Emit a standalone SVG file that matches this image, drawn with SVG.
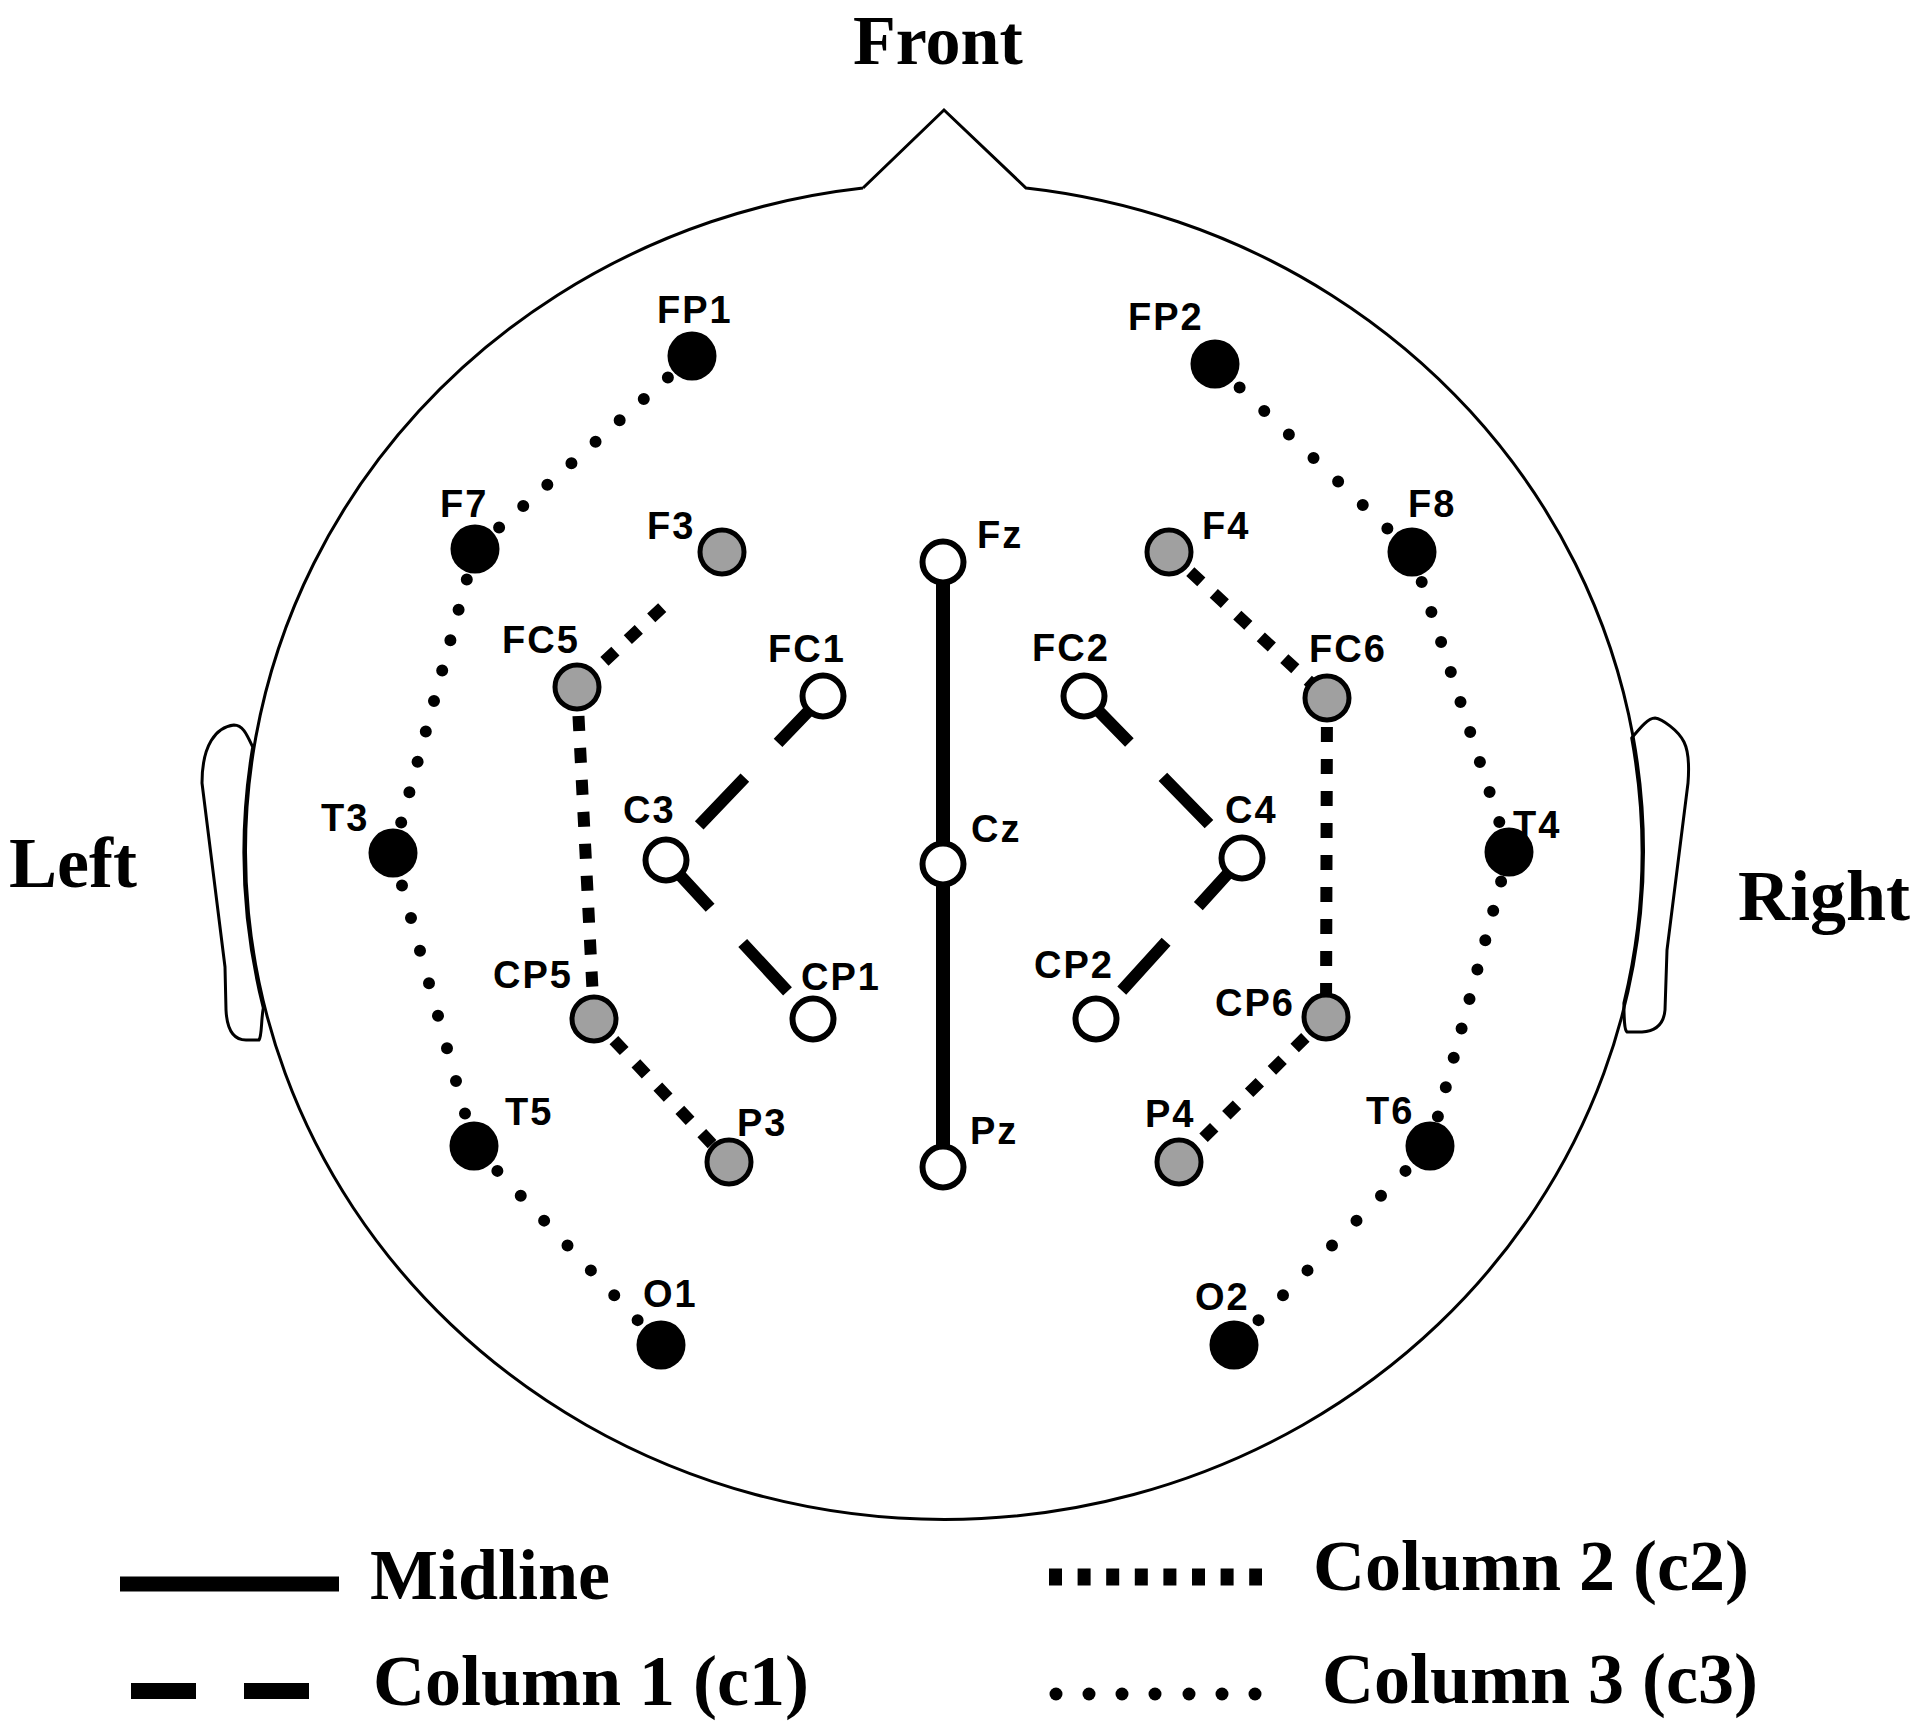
<svg xmlns="http://www.w3.org/2000/svg" width="1920" height="1729" viewBox="0 0 1920 1729">
<style>
.outline{fill:none;stroke:#000;stroke-width:3;stroke-linejoin:miter}
.ear{fill:#fff;stroke:#000;stroke-width:3;stroke-linejoin:round}
.mid{stroke:#000;stroke-width:14;fill:none}
.c1{stroke:#000;stroke-width:12;fill:none;stroke-dasharray:65 48 66 400}
.c2{stroke:#000;stroke-width:12;fill:none;stroke-dasharray:15 17;stroke-dashoffset:3}
.c3{stroke:#000;stroke-width:12;fill:none;stroke-linecap:round;stroke-dasharray:0 1}
.blk{fill:#000}
.gry{fill:#a0a0a0;stroke:#000;stroke-width:5}
.wht{fill:#fff;stroke:#000;stroke-width:6}
.lab{font-family:"Liberation Sans",Arial,sans-serif;font-weight:bold;font-size:38px;letter-spacing:2px;fill:#000}
.big{font-family:"Liberation Serif","Times New Roman",serif;font-weight:bold;font-size:72px;fill:#000}
.dot{fill:#000}
</style>
<rect width="1920" height="1729" fill="#fff"/>
<g id="head">
<path class="ear" d="M252.7 747 C247 735 243 725 234 725 C216 727 202 745 202 783 L225 967 L226 1010 C227 1030 233 1040 246 1040 L259 1040 C262 1036 261 1020 263.3 1008 A699 668 0 0 1 252.7 747 Z"/>
<path class="ear" d="M1631.7 738 C1640 728 1648 718 1655 718 C1662 719 1678 730 1684 742 C1689 752 1689 770 1688 783 L1667 950 L1665 1010 C1664 1022 1658 1031 1642 1032 L1627 1032 C1624 1030 1624 1015 1623.9 1003 A699 668 0 0 0 1631.7 738 Z"/>
<path class="outline" d="M863 188 L944 110 L1026 188 A699 668 0 1 1 863 188"/>
</g>
<g id="connectors">
<path class="mid" d="M943 562 L943 1167"/>
<path class="c1" d="M823 696 L666 860"/>
<path class="c1" d="M666 860 L813 1019"/>
<path class="c1" d="M1084 696 L1242 858"/>
<path class="c1" d="M1242 858 L1096 1019"/>
<path class="c2" style="stroke-dashoffset:26.5" d="M577 687 L662.6 607.2"/>
<path class="c2" d="M577 687 L594 1019"/>
<path class="c2" d="M594 1019 L729 1162"/>
<path class="c2" d="M1169 552 L1327 698"/>
<path class="c2" d="M1327 698 L1326 1017"/>
<path class="c2" d="M1326 1017 L1179 1162"/>
<path class="c3" pathLength="9" d="M692 356 L475 549"/>
<path class="c3" pathLength="10" d="M475 549 L393 853"/>
<path class="c3" pathLength="9" d="M393 853 L474 1146"/>
<path class="c3" pathLength="8" d="M474 1146 L661 1345"/>
<path class="c3" pathLength="8" d="M1215 364 L1412 552"/>
<path class="c3" pathLength="10" d="M1412 552 L1509 852"/>
<path class="c3" pathLength="10" d="M1509 852 L1430 1146"/>
<path class="c3" pathLength="8" d="M1430 1146 L1234 1345"/>
</g>
<g id="FP1"><circle class="blk" cx="692" cy="356" r="24.5"/><text class="lab" x="657" y="323">FP1</text></g>
<g id="FP2"><circle class="blk" cx="1215" cy="364" r="24.5"/><text class="lab" x="1128" y="330">FP2</text></g>
<g id="F7"><circle class="blk" cx="475" cy="549" r="24.5"/><text class="lab" x="440" y="517">F7</text></g>
<g id="F3"><circle class="gry" cx="722" cy="552" r="22"/><text class="lab" x="647" y="539">F3</text></g>
<g id="Fz"><circle class="wht" cx="943" cy="562" r="20.5"/><text class="lab" x="977" y="548">Fz</text></g>
<g id="F4"><circle class="gry" cx="1169" cy="552" r="22"/><text class="lab" x="1202" y="539">F4</text></g>
<g id="F8"><circle class="blk" cx="1412" cy="552" r="24.5"/><text class="lab" x="1408" y="517">F8</text></g>
<g id="FC5"><circle class="gry" cx="577" cy="687" r="22"/><text class="lab" x="502" y="653">FC5</text></g>
<g id="FC1"><circle class="wht" cx="823" cy="696" r="20.5"/><text class="lab" x="768" y="662">FC1</text></g>
<g id="FC2"><circle class="wht" cx="1084" cy="696" r="20.5"/><text class="lab" x="1032" y="661">FC2</text></g>
<g id="FC6"><circle class="gry" cx="1327" cy="698" r="22"/><text class="lab" x="1309" y="662">FC6</text></g>
<g id="T3"><circle class="blk" cx="393" cy="853" r="24.5"/><text class="lab" x="321" y="831">T3</text></g>
<g id="C3"><circle class="wht" cx="666" cy="860" r="20.5"/><text class="lab" x="623" y="823">C3</text></g>
<g id="Cz"><circle class="wht" cx="943" cy="864" r="20.5"/><text class="lab" x="971" y="842">Cz</text></g>
<g id="C4"><circle class="wht" cx="1242" cy="858" r="20.5"/><text class="lab" x="1225" y="823">C4</text></g>
<g id="T4"><circle class="blk" cx="1509" cy="852" r="24.5"/><text class="lab" x="1513" y="838">T4</text></g>
<g id="CP5"><circle class="gry" cx="594" cy="1019" r="22"/><text class="lab" x="493" y="988">CP5</text></g>
<g id="CP1"><circle class="wht" cx="813" cy="1019" r="20.5"/><text class="lab" x="801" y="990">CP1</text></g>
<g id="CP2"><circle class="wht" cx="1096" cy="1019" r="20.5"/><text class="lab" x="1034" y="978">CP2</text></g>
<g id="CP6"><circle class="gry" cx="1326" cy="1017" r="22"/><text class="lab" x="1215" y="1016">CP6</text></g>
<g id="T5"><circle class="blk" cx="474" cy="1146" r="24.5"/><text class="lab" x="505" y="1125">T5</text></g>
<g id="P3"><circle class="gry" cx="729" cy="1162" r="22"/><text class="lab" x="737" y="1136">P3</text></g>
<g id="Pz"><circle class="wht" cx="943" cy="1167" r="20.5"/><text class="lab" x="970" y="1144">Pz</text></g>
<g id="P4"><circle class="gry" cx="1179" cy="1162" r="22"/><text class="lab" x="1145" y="1127">P4</text></g>
<g id="T6"><circle class="blk" cx="1430" cy="1146" r="24.5"/><text class="lab" x="1366" y="1124">T6</text></g>
<g id="O1"><circle class="blk" cx="661" cy="1345" r="24.5"/><text class="lab" x="643" y="1307">O1</text></g>
<g id="O2"><circle class="blk" cx="1234" cy="1345" r="24.5"/><text class="lab" x="1195" y="1310">O2</text></g>
<g id="directions">
<text class="big" x="853" y="64" style="font-size:70px">Front</text>
<text class="big" x="9" y="887">Left</text>
<text class="big" x="1738" y="920">Right</text>
</g>
<g id="legend">
<path d="M120 1584 L339 1584" stroke="#000" stroke-width="15"/>
<text class="big" x="370" y="1599">Midline</text>
<path d="M131 1691 L309 1691" stroke="#000" stroke-width="16" stroke-dasharray="65 48"/>
<text class="big" x="373" y="1705">Column 1 (c1)</text>
<path d="M1049 1577 L1262 1577" stroke="#000" stroke-width="17" stroke-dasharray="13 15.6"/>
<text class="big" x="1313" y="1590">Column 2 (c2)</text>
<circle class="dot" cx="1056" cy="1694" r="6.5"/>
<circle class="dot" cx="1089" cy="1694" r="6.5"/>
<circle class="dot" cx="1122" cy="1694" r="6.5"/>
<circle class="dot" cx="1155" cy="1694" r="6.5"/>
<circle class="dot" cx="1189" cy="1694" r="6.5"/>
<circle class="dot" cx="1222" cy="1694" r="6.5"/>
<circle class="dot" cx="1255" cy="1694" r="6.5"/>
<text class="big" x="1322" y="1703">Column 3 (c3)</text>
</g>
</svg>
